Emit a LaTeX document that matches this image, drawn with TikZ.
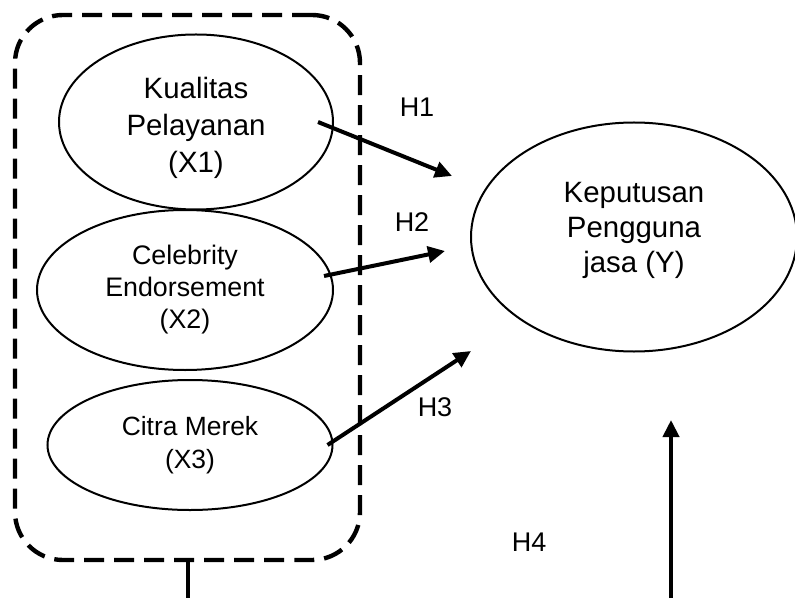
\documentclass[tikz,border=0pt]{standalone}
\usepackage{fontspec}
\setmainfont{Liberation Sans}
\usetikzlibrary{shapes.geometric,arrows.meta}
\tikzset{
  var/.style={draw, ellipse, line width=1pt, align=center, inner sep=0pt},
  path arrow/.style={line width=2pt, -{Triangle[length=8.5pt,width=8pt]}},
  hlabel/.style={font=\fontsize{13.5}{16}\selectfont}
}
\begin{document}
\begin{tikzpicture}[x=0.5pt,y=-0.5pt]
    \useasboundingbox (0,0) rectangle (795,598);
    % independent variables
    \node[draw, dashed, line width=2.2pt, dash pattern=on 10pt off 5pt, rounded corners=24pt,
          minimum width=172.5pt, minimum height=272.5pt] (grp) at (187.5,287.5) {};
    \node[var, minimum width=137pt, minimum height=87.5pt, font=\fontsize{14.7}{18.5}\selectfont] (x1) at (196,122) {Kualitas\\Pelayanan\\(X1)\\[-21pt]};
    \node[var, minimum width=148pt, minimum height=80pt, font=\fontsize{13.4}{16}\selectfont] (x2) at (185,290) {Celebrity\\Endorsement\\(X2)};
    \node[var, minimum width=142.5pt, minimum height=65pt, font=\fontsize{13.2}{16.5}\selectfont] (x3) at (190,445) {Citra Merek\\(X3)};
    % dependent variable
    \node[var, minimum width=163pt, minimum height=114.5pt, font=\fontsize{14.7}{17.5}\selectfont] (y) at (634,237) {Keputusan\\Pengguna\\jasa (Y)\\[-7.5pt]};
    % arrow ends
    \coordinate (s1) at ([xshift=-8pt]x1.east);
    \coordinate (s2) at ([xshift=-5pt,yshift=7pt]x2.east);
    \coordinate (s3) at ([xshift=-3pt]x3.east);
    \coordinate (e1) at (452,176);
    \coordinate (e2) at (445,251);
    \coordinate (e3) at (471,351);
    \coordinate (b1) at (grp.south |- 0,598);
    \coordinate (b2) at (671,598);
    \coordinate (e4) at (671,420);
    \draw[path arrow] (s1) -- (e1);
    \draw[path arrow] (s2) -- (e2);
    \draw[path arrow] (s3) -- (e3);
    \draw[line width=2pt] (grp.south) -- (b1);
    \draw[path arrow] (b2) -- (e4);
    % hypotheses
    \node[hlabel] (h1) at (417,107) {H1};
    \node[hlabel] (h2) at (412,222) {H2};
    \node[hlabel] (h3) at (435,407) {H3};
    \node[hlabel] (h4) at (529,542) {H4};
\end{tikzpicture}
\end{document}
